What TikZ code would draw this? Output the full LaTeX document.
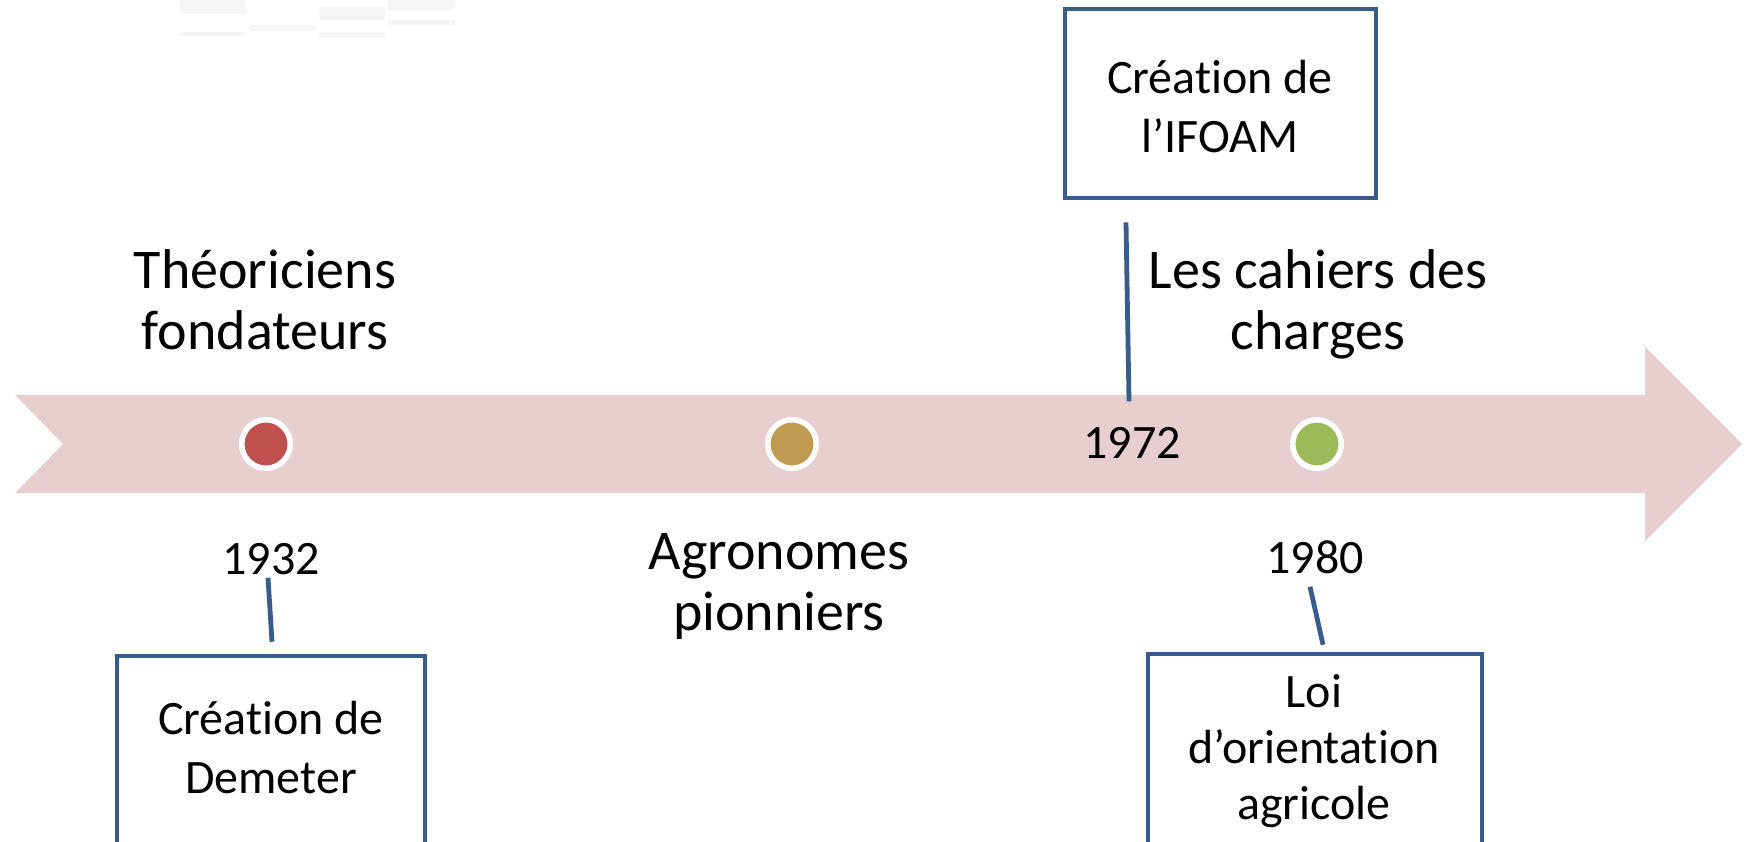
\documentclass[tikz,border=0pt]{standalone}
\usepackage{fontspec}
\setmainfont{Carlito}[RawFeature={-liga;-clig;-dlig}]
\usetikzlibrary{calc}
\definecolor{band}{RGB}{231,207,208}
\definecolor{boxblue}{RGB}{56,93,138}
\definecolor{dotred}{RGB}{192,80,77}
\definecolor{dottan}{RGB}{191,155,82}
\definecolor{dotgreen}{RGB}{155,187,89}
\definecolor{ghost}{RGB}{246,246,246}
\begin{document}
\begin{tikzpicture}[x=0.5pt,y=-0.5pt,
  bigtxt/.style={font=\fontsize{28pt}{30.5pt}\selectfont, align=center, inner sep=0pt, anchor=base},
  smalltxt/.style={font=\fontsize{24pt}{29.5pt}\selectfont, align=center, inner sep=0pt, anchor=base},
  yeartxt/.style={font=\fontsize{24pt}{29pt}\selectfont, inner sep=0pt, anchor=base},
  eventbox/.style={draw=boxblue, line width=2.3pt, rectangle, inner sep=0pt},
  conn/.style={draw=boxblue, line width=2.4pt},
  dotmark/.style={circle, draw=white, line width=2.75pt, minimum size=24.25pt, inner sep=0pt}
]
\useasboundingbox (0,0) rectangle (1749,841);
\clip (0,0) rectangle (1749,841);
\fill[white] (0,0) rectangle (1749,841);

% faint artefacts at the top
\fill[ghost] (180,0) rectangle (246,14);
\fill[ghost] (180,32) rectangle (246,36);
\fill[ghost] (250,25) rectangle (316,31);
\fill[ghost] (319,7) rectangle (385,20);
\fill[ghost] (319,32) rectangle (385,38);
\fill[ghost] (388,0) rectangle (455,10);
\fill[ghost] (388,20) rectangle (455,25);

% timeline band
\fill[band] (15,395) -- (1645,395) -- (1645,347) -- (1742,444) -- (1645,541)
  -- (1645,493) -- (15,493) -- (63,444) -- cycle;

% dots
\node[dotmark, fill=dotred] (d1) at (266,444) {};
\node[dotmark, fill=dottan] (d2) at (792,444) {};
\node[dotmark, fill=dotgreen] (d3) at (1317,444) {};

% period labels (anchored at the baseline of the last line)
\node[bigtxt] (theo) at (265,349) {Théoriciens\\fondateurs};
\node[bigtxt] (agro) at (779,630) {Agronomes\\pionniers};
\node[bigtxt] (cahiers) at (1318,349) {Les cahiers des\\charges};

% years
\node[yeartxt] (y1932) at (271,574) {1932};
\node[yeartxt] (y1972) at (1132,458) {1972};
\node[yeartxt] (y1980) at (1315,573) {1980};

% event boxes
\node[eventbox, minimum width=155.5pt, minimum height=94.5pt] (ifoam) at (1220.5,103.5) {};
\node[smalltxt] (ifoamtxt) at (1220,152) {Création de\\l’IFOAM};
\node[eventbox, minimum width=154pt, minimum height=95pt] (demeter) at (271,751) {};
\node[smalltxt] (demetertxt) at (271,793) {Création de\\Demeter};
\node[eventbox, minimum width=167pt, minimum height=96pt] (loi) at (1315,750) {};
\node[smalltxt, font=\fontsize{24pt}{28pt}\selectfont] (loitxt) at (1314,819) {Loi\\d’orientation\\agricole};

% connectors
\draw[conn] ($(y1932.south)+(-3,3)$) -- ($(demeter.north)+(1,-12)$);
\draw[conn] ($(y1980.south)+(-5,13)$) -- ($(loi.north)+(8,-7)$);
\draw[conn] ($(ifoam.south)+(-94.5,22)$) -- ($(y1972.north)+(-3,-25)$);
\end{tikzpicture}
\end{document}
